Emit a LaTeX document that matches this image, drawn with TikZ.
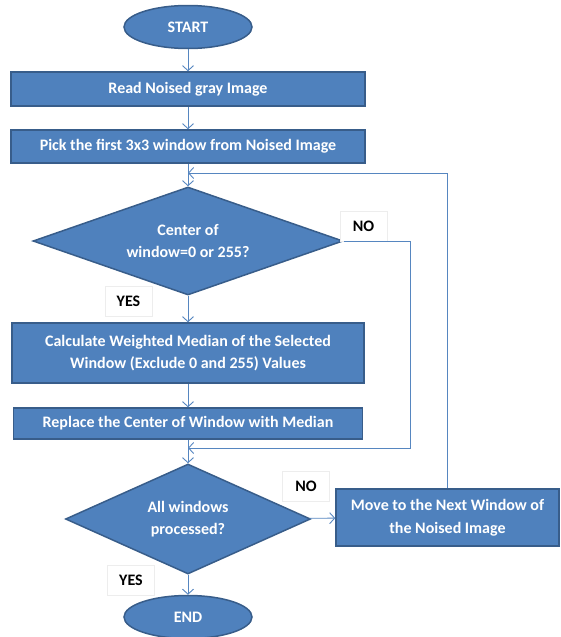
\documentclass[tikz,border=0pt]{standalone}
\usepackage{fontspec}
\setmainfont{Carlito}
\usetikzlibrary{shapes.geometric,arrows.meta}
\definecolor{boxblue}{RGB}{79,129,189}
\definecolor{boxedge}{RGB}{56,93,138}
\definecolor{linkblue}{RGB}{86,134,192}

\begin{document}
\begin{tikzpicture}[x=1pt, y=-1pt,
        every node/.style={font=\bfseries\fontsize{16}{22.5}\selectfont},
        term/.style={shape=ellipse, fill=boxblue, draw=boxedge, line width=1.5pt, text=white, minimum width=128pt, minimum height=43pt, inner sep=0pt},
        proc/.style={shape=rectangle, fill=boxblue, draw=boxedge, line width=1.5pt, text=white, align=center, inner sep=0pt},
        test/.style={shape=diamond, fill=boxblue, draw=boxedge, line width=1.5pt, text=white, align=center, inner sep=0pt},
        tag/.style={shape=rectangle, fill=white, draw=black!7, text=black, minimum width=47pt, minimum height=30pt, inner sep=0pt},
        link/.style={draw=linkblue, line width=0.9pt, -{Straight Barb[length=5pt,width=11pt]}}]
        \useasboundingbox (0,0) rectangle (560,637);
        \node[term] (start) at (188, 27) {START};
        \node[proc, minimum width=354pt, minimum height=34pt] (read) at (188, 89) {Read Noised gray Image};
        \node[proc, minimum width=354pt, minimum height=33pt] (pick) at (188, 146.5) {Pick the first 3x3 window from Noised Image};
        \node[test, aspect=2.87, minimum width=310pt, minimum height=108pt] (center) at (188, 241) {Center of\\window=0 or 255?};
        \node[proc, minimum width=352pt, minimum height=60pt] (calc) at (188, 353) {Calculate Weighted Median of the Selected\\Window (Exclude 0 and 255) Values};
        \node[proc, minimum width=349pt, minimum height=31pt] (repl) at (188, 423.5) {Replace the Center of Window with Median};
        \node[test, aspect=2.23, minimum width=245pt, minimum height=110pt] (all) at (188, 519) {All windows\\processed?};
        \node[proc, minimum width=223pt, minimum height=57pt] (move) at (447.5, 517.5) {Move to the Next Window of\\the Noised Image};
        \node[term] (stop) at (188, 617) {END};
        \node[tag] (no1) at (363.5, 226) {NO};
        \node[tag] (yes1) at (128.5, 301) {YES};
        \node[tag] (no2) at (306, 486) {NO};
        \node[tag] (yes2) at (131, 580.5) {YES};
        \coordinate (loopin) at (188, 173);
        \coordinate (noline) at (410, 448);
        \coordinate (mergein) at (188, 448);
        \draw[link] (start) -- (read);
        \draw[link] (read) -- (pick);
        \draw[link] (pick) -- (center);
        \draw[link] (center) -- (calc);
        \draw[link] (calc) -- (repl);
        \draw[link] (repl) -- (all);
        \draw[link] (all) -- (stop);
        \draw[link] (all) -- (move);
        \draw[link] (center.east) -| (noline) -- (mergein);
        \draw[link] (move.north) |- (loopin);
\end{tikzpicture}
\end{document}
